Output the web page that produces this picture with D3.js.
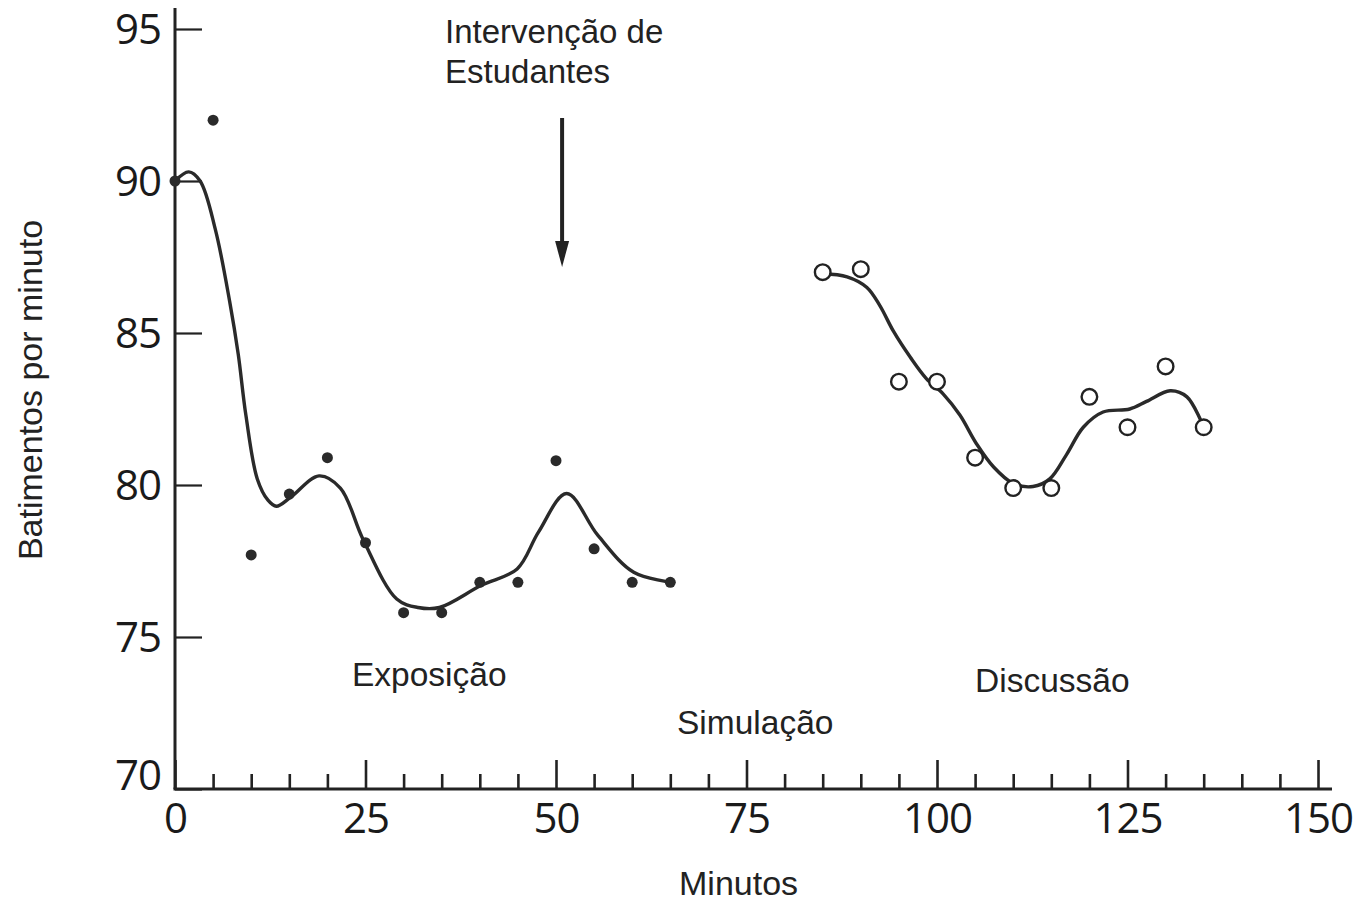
<!DOCTYPE html>
<html>
<head>
<meta charset="utf-8">
<script src="https://cdn.jsdelivr.net/npm/d3@7"></script>
<style>
  html, body { margin: 0; padding: 0; background: #fff; }
  svg { display: block; }
  .lbl { font-family: "Liberation Sans", Arial, sans-serif; fill: #222; }
  .tick text { font-family: "Open Sans", "Noto Sans", sans-serif; fill: #1a1a1a; }
</style>
</head>
<body>
<svg id="chart" width="1363" height="906"></svg>
<script>
// ---- data ----
const exposMinutes = [0, 5, 10, 15, 20, 25, 30, 35, 40, 45, 50, 55, 60, 65];
const exposValues  = [90, 92, 77.7, 79.7, 80.9, 78.1, 75.8, 75.8, 76.8, 76.8, 80.8, 77.9, 76.8, 76.8];

const discMinutes = [85, 90, 95, 100, 105, 110, 115, 120, 125, 130, 135];
const discValues  = [87, 87.1, 83.4, 83.4, 80.9, 79.9, 79.9, 82.9, 81.9, 83.9, 81.9];

// smoothed trend lines as drawn
const exposCurveMinutes = [0, 1.8, 3.3, 5.3, 7.2, 8.3, 9.3, 10.8, 12.2, 13.3, 15.2, 18.9, 21.7, 24.7, 29.1, 31.9, 34.7, 40.2, 44.9, 47.7, 51.4, 55.5, 60.2, 65.3];
const exposCurveValues  = [90, 90.3, 90.0, 88.4, 86.0, 84.3, 82.3, 80.2, 79.5, 79.3, 79.6, 80.3, 79.9, 78.2, 76.25, 75.97, 75.97, 76.7, 77.24, 78.45, 79.72, 78.34, 77.13, 76.8];

const discCurveMinutes = [85, 88.2, 90.8, 92.5, 94.3, 96.5, 98.6, 100.8, 103, 105.2, 107.4, 110, 112.6, 114.8, 117, 119.2, 121.8, 125.3, 127.5, 130.6, 132.8, 135];
const discCurveValues  = [86.95, 86.85, 86.5, 85.9, 85.05, 84.2, 83.5, 83.0, 82.3, 81.35, 80.6, 80.05, 79.95, 80.2, 81.0, 81.9, 82.4, 82.5, 82.75, 83.1, 82.9, 81.9];

const xMajorTicks = [0, 25, 50, 75, 100, 125, 150];
const xMinorTicks = d3.range(5, 150, 5).filter(v => v % 25 !== 0);
const yTicks = [70, 75, 80, 85, 90, 95];

const interventionMinute = 50.8;

// ---- scales ----
const svg = d3.select("#chart");
const x = d3.scaleLinear().domain([0, 150]).range([175, 1318]);
const y = d3.scaleLinear().domain([70, 95]).range([789, 29]);

const ink = "#222";

// ---- axes ----
const xMinor = svg.append("g").attr("transform", `translate(0,${y(70)})`)
  .call(d3.axisBottom(x).tickValues(xMinorTicks).tickSize(-15).tickFormat(""));
const xMajor = svg.append("g").attr("transform", `translate(0,${y(70)})`)
  .call(d3.axisBottom(x).tickValues(xMajorTicks).tickSize(-29).tickPadding(14));
[xMinor, xMajor].forEach(g => {
  g.select(".domain").remove();
  g.selectAll(".tick line").attr("stroke", ink).attr("stroke-width", 2.6);
});
xMajor.selectAll(".tick text").attr("font-size", 42).attr("letter-spacing", -1);

const yAx = svg.append("g").attr("transform", `translate(${x(0)},0)`)
  .call(d3.axisLeft(y).tickValues(yTicks).tickSize(-27).tickPadding(14));
yAx.select(".domain").remove();
yAx.selectAll(".tick line").attr("stroke", ink).attr("stroke-width", 2.2);
yAx.selectAll(".tick text").attr("font-size", 42).attr("letter-spacing", -1)
  .attr("dy", d => d === 70 ? "0.0em" : "0.34em");

// axis lines
svg.append("line").attr("x1", x(0)).attr("x2", x(0)).attr("y1", 8).attr("y2", y(70))
  .attr("stroke", ink).attr("stroke-width", 3);
svg.append("line").attr("x1", x(0) - 1.5).attr("x2", 1332).attr("y1", y(70)).attr("y2", y(70))
  .attr("stroke", ink).attr("stroke-width", 3);

// ---- curves ----
const line = d3.line().x(d => x(d[0])).y(d => y(d[1])).curve(d3.curveCatmullRom.alpha(0.5));
const exposCurve = exposCurveMinutes.map((m, i) => [m, exposCurveValues[i]]);
const discCurve = discCurveMinutes.map((m, i) => [m, discCurveValues[i]]);

svg.append("path").datum(exposCurve).attr("d", line)
  .attr("fill", "none").attr("stroke", "#2a2a2a").attr("stroke-width", 3.4);
svg.append("path").datum(discCurve).attr("d", line)
  .attr("fill", "none").attr("stroke", "#2a2a2a").attr("stroke-width", 3.4);

// ---- points ----
svg.append("g").selectAll("circle")
  .data(exposMinutes.map((m, i) => [m, exposValues[i]]))
  .join("circle")
  .attr("cx", d => x(d[0])).attr("cy", d => y(d[1])).attr("r", 5.5)
  .attr("fill", "#2a2a2a");

svg.append("g").selectAll("circle")
  .data(discMinutes.map((m, i) => [m, discValues[i]]))
  .join("circle")
  .attr("cx", d => x(d[0])).attr("cy", d => y(d[1])).attr("r", 7.8)
  .attr("fill", "#fff").attr("stroke", "#222").attr("stroke-width", 2.4);

// ---- annotation: arrow ----
const ax = x(interventionMinute);
svg.append("line").attr("x1", ax).attr("x2", ax).attr("y1", 118).attr("y2", 248)
  .attr("stroke", ink).attr("stroke-width", 4);
svg.append("path")
  .attr("d", `M${ax - 7},241 L${ax + 7},241 L${ax},267 Z`)
  .attr("fill", ink);

// ---- texts ----
function label(t, px, py, size, anchor) {
  return svg.append("text").attr("class", "lbl").attr("x", px).attr("y", py)
    .attr("font-size", size).attr("text-anchor", anchor || "start").text(t);
}
label("Intervenção de", 445, 43, 33);
label("Estudantes", 445, 83, 33);
label("Exposição", 352, 686, 33.5);
label("Simulação", 677, 734, 33.5);
label("Discussão", 975, 692, 33.5);
label("Minutos", 679, 895, 34);

svg.append("text").attr("class", "lbl")
  .attr("transform", "translate(42,390) rotate(-90)")
  .attr("text-anchor", "middle").attr("font-size", 34)
  .text("Batimentos por minuto");
</script>
</body>
</html>
